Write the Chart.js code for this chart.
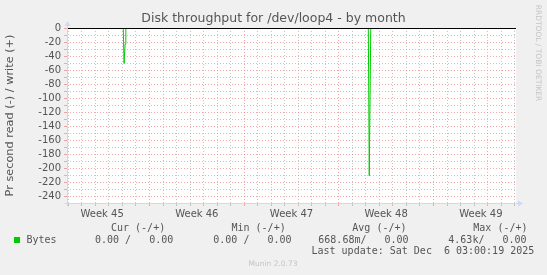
<!DOCTYPE html>
<html>
<head>
<meta charset="utf-8">
<script src="https://cdn.jsdelivr.net/npm/chart.js@4.4.1/dist/chart.umd.min.js"></script>
<style>
  body { margin: 0; background: #f0f0f0; }
  canvas { display: block; }
</style>
</head>
<body>
<canvas id="chart" width="547" height="275"></canvas>
<script>
// time axis in days, integer days are the daily grid lines
const X_MIN = -0.1;
const X_MAX = 33.1;
const weekStarts = [6, 13, 20, 27];
const weekCenters = [2.5, 9.5, 16.5, 23.5, 30.5];
const weekLabels = ['Week 45', 'Week 46', 'Week 47', 'Week 48', 'Week 49'];

// read (drawn negative) and write series
const readDays = [-0.1, 4.06, 4.12, 4.2, 4.25, 22.18, 22.25, 22.36, 33.1];
const readValues = [0, 0, -50, -22, 0, 0, -211, 0, 0];
const writeDays = [-0.1, 33.1];
const writeValues = [0, 0];

// a hair above 0 so the zero rule lands on a pixel row
const Y_MIN = -250;
const Y_MAX = 0.7;

const title = 'Disk throughput for /dev/loop4 - by month';
const legendHeaders = ['Cur (-/+)', 'Min (-/+)', 'Avg (-/+)', 'Max (-/+)'];
const legendValues = ['0.00 /   0.00', '0.00 /   0.00', '668.68m/   0.00', '4.63k/   0.00'];
const lastUpdate = 'Last update: Sat Dec  6 03:00:19 2025';

const GREEN = '#00cc00';
const GRID = 'rgba(150,150,150,0.55)';
const MGRID = 'rgba(235,110,110,0.6)';
const AXIS = '#cfd6f8';
const FONT = '#555555';

const toPoints = (xs, ys) => xs.map((x, i) => ({ x, y: ys[i] }));

const dayTicks = [];
for (let d = Math.ceil(X_MIN); d <= X_MAX; d++) dayTicks.push(d);
const yTicks = [];
for (let v = 0; v > Y_MIN; v -= 10) yTicks.push(v);

const canvasBg = {
    id: 'canvasBg',
    beforeDraw(chart) {
        const { ctx, chartArea: a } = chart;
        ctx.save();
        ctx.fillStyle = '#ffffff';
        ctx.fillRect(a.left, a.top, a.right - a.left, a.bottom - a.top);
        ctx.restore();
    }
};

const rrdExtras = {
    id: 'rrdExtras',
    afterDraw(chart) {
        const { ctx, chartArea: a, width } = chart;
        ctx.save();
        // title
        ctx.fillStyle = FONT;
        ctx.font = '12.5px "DejaVu Sans"';
        ctx.textAlign = 'center';
        ctx.textBaseline = 'middle';
        ctx.fillText(title, width / 2, 18.5);

        // axes with arrows
        ctx.strokeStyle = AXIS;
        ctx.fillStyle = AXIS;
        ctx.lineWidth = 1;
        const ax = Math.round(a.left) + 0.5;
        const ay = Math.round(a.bottom) + 0.5;
        ctx.beginPath();
        ctx.moveTo(ax, ay + 3);
        ctx.lineTo(ax, a.top - 4);
        ctx.moveTo(ax - 3, ay);
        ctx.lineTo(a.right + 3, ay);
        ctx.stroke();
        ctx.beginPath();
        ctx.moveTo(ax, a.top - 7);
        ctx.lineTo(ax - 3, a.top - 2);
        ctx.lineTo(ax + 3, a.top - 2);
        ctx.closePath();
        ctx.fill();
        ctx.beginPath();
        ctx.moveTo(a.right + 7, ay);
        ctx.lineTo(a.right + 2, ay - 3);
        ctx.lineTo(a.right + 2, ay + 3);
        ctx.closePath();
        ctx.fill();

        // legend
        ctx.fillStyle = GREEN;
        ctx.fillRect(14, 237, 6, 6);
        ctx.fillStyle = FONT;
        ctx.font = '10px "DejaVu Sans Mono"';
        ctx.textAlign = 'left';
        const headX = [111, 231.5, 352.3, 473.3];
        const valX = [95, 213.3, 318.3, 448.3];
        legendHeaders.forEach((t, i) => ctx.fillText(t, headX[i], 228));
        ctx.fillText('Bytes', 26.5, 240);
        legendValues.forEach((t, i) => ctx.fillText(t, valX[i], 240));
        ctx.fillText(lastUpdate, 311.5, 251.5);

        // watermarks
        ctx.fillStyle = '#c4c4c4';
        ctx.font = '7.5px "DejaVu Sans"';
        ctx.textAlign = 'center';
        ctx.fillText('Munin 2.0.73', 273, 264);
        ctx.translate(538, 53);
        ctx.rotate(Math.PI / 2);
        ctx.fillText('RRDTOOL / TOBI OETIKER', 0, 0);
        ctx.restore();
    }
};

const gridColor = (ctx, major) => {
    const v = ctx.tick.value;
    if (weekCenters.includes(v)) return 'rgba(0,0,0,0)';
    return major(v) ? MGRID : GRID;
};

new Chart(document.getElementById('chart'), {
    type: 'line',
    data: {
        datasets: [
            {
                // zero rule, drawn on top
                data: toPoints([X_MIN, X_MAX], [0, 0]),
                borderColor: '#000000',
                borderWidth: 1,
                pointRadius: 0,
                fill: false
            },
            {
                data: toPoints(readDays, readValues),
                borderColor: GREEN,
                borderWidth: 1,
                pointRadius: 0,
                fill: false,
                tension: 0
            },
            {
                data: toPoints(writeDays, writeValues),
                borderColor: GREEN,
                borderWidth: 1,
                pointRadius: 0,
                fill: false,
                tension: 0
            }
        ]
    },
    options: {
        responsive: false,
        animation: false,
        devicePixelRatio: 1,
        layout: { padding: { left: 0, right: 31, top: 28, bottom: 50 } },
        plugins: {
            legend: { display: false },
            tooltip: { enabled: false },
            title: { display: false }
        },
        scales: {
            x: {
                type: 'linear',
                min: X_MIN,
                max: X_MAX,
                afterBuildTicks: (scale) => {
                    scale.ticks = [...dayTicks, ...weekCenters].sort((a, b) => a - b).map(v => ({ value: v }));
                },
                afterFit: (scale) => { scale.height = 22; },
                ticks: {
                    autoSkip: false,
                    maxRotation: 0,
                    padding: 2,
                    color: FONT,
                    font: { family: 'DejaVu Sans', size: 10 },
                    callback: (v) => {
                        const i = weekCenters.indexOf(v);
                        return i >= 0 ? weekLabels[i] : '';
                    }
                },
                grid: {
                    color: (ctx) => gridColor(ctx, v => weekStarts.includes(v)),
                    tickColor: (ctx) => gridColor(ctx, v => weekStarts.includes(v)),
                    tickLength: 3,
                    lineWidth: 1
                },
                border: { display: false, dash: [1, 2] }
            },
            y: {
                type: 'linear',
                min: Y_MIN,
                max: Y_MAX,
                afterBuildTicks: (scale) => {
                    scale.ticks = yTicks.map(v => ({ value: v }));
                },
                afterFit: (scale) => { scale.width = 67; },
                ticks: {
                    autoSkip: false,
                    padding: 3,
                    color: FONT,
                    font: { family: 'DejaVu Sans', size: 10 },
                    callback: (v) => (v % 20 === 0 ? String(v) : '')
                },
                grid: {
                    color: (ctx) => gridColor(ctx, v => v % 20 === 0),
                    tickColor: (ctx) => gridColor(ctx, v => v % 20 === 0),
                    tickLength: 3,
                    lineWidth: 1
                },
                border: { display: false, dash: [1, 2] },
                title: {
                    display: true,
                    text: 'Pr second read (-) / write (+)',
                    color: FONT,
                    font: { family: 'DejaVu Sans', size: 11.3 },
                    padding: { top: 3, bottom: 0 }
                }
            }
        }
    },
    plugins: [canvasBg, rrdExtras]
});
</script>
</body>
</html>
